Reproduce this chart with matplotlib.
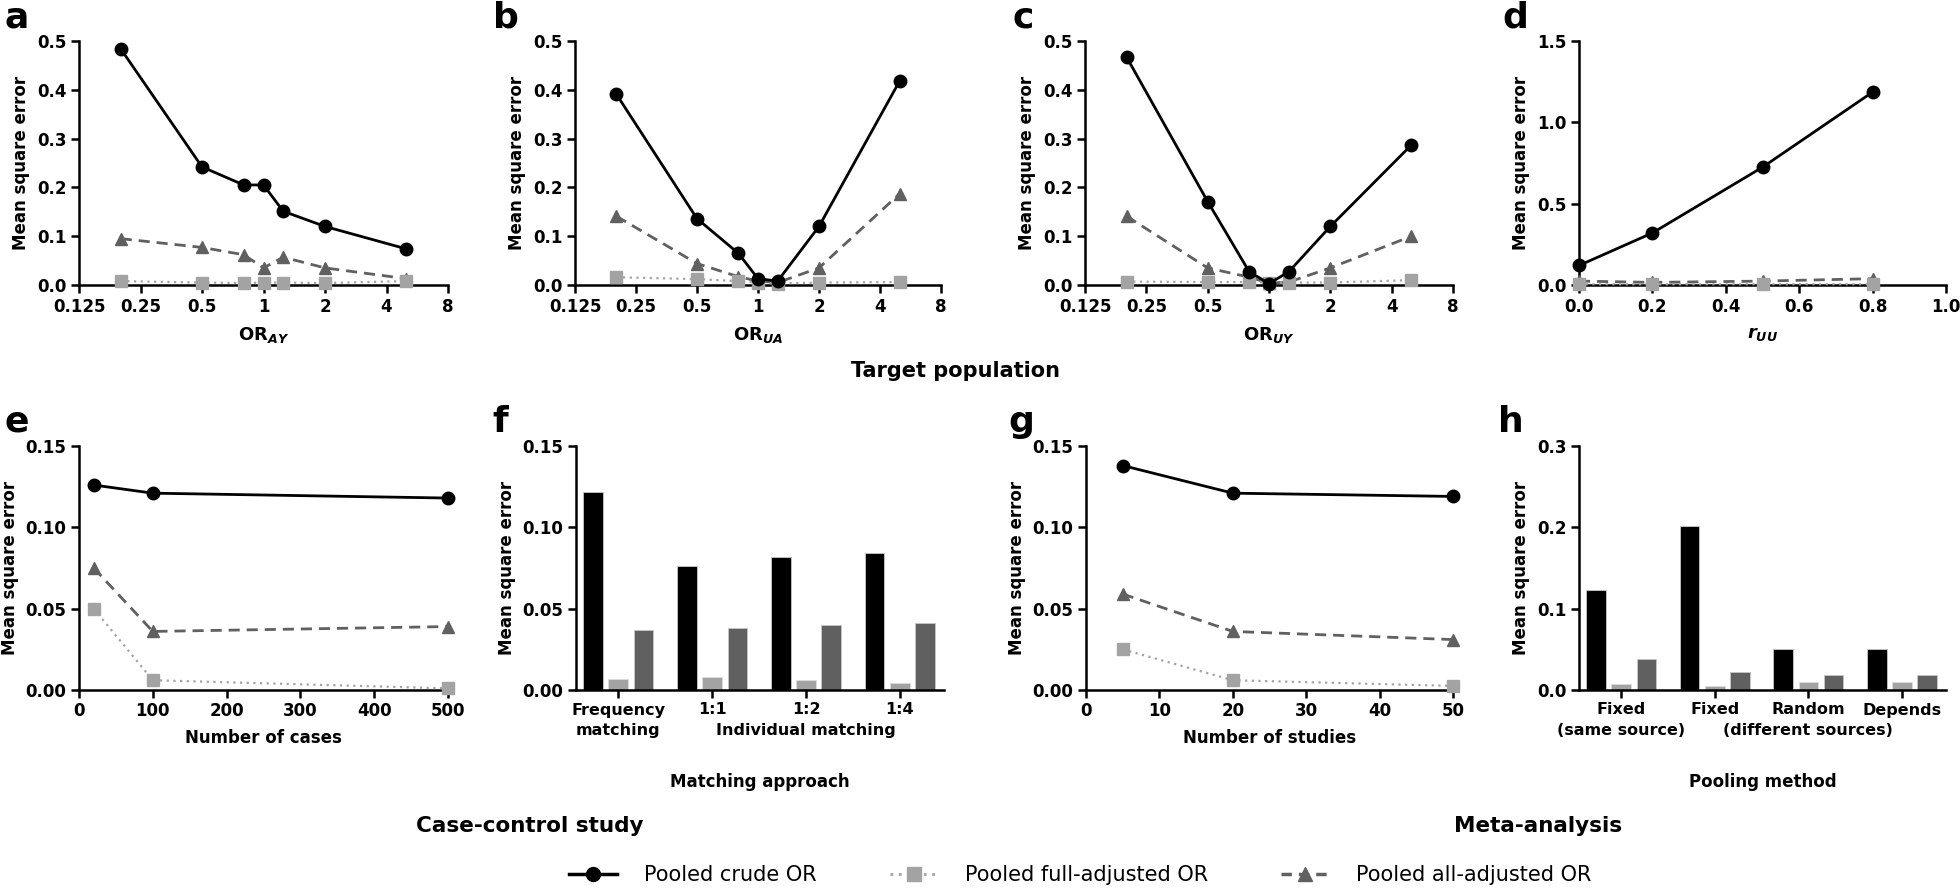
import matplotlib

matplotlib.use("Agg")
import matplotlib.pyplot as plt  # noqa: E402
from matplotlib.lines import Line2D  # noqa: E402

plt.rcParams.update({
    "font.family": "DejaVu Sans",
    "font.weight": "bold",
    "axes.labelweight": "bold",
    "mathtext.fontset": "custom",
    "mathtext.rm": "DejaVu Sans:bold",
    "mathtext.it": "DejaVu Sans:bold:italic",
    "mathtext.bf": "DejaVu Sans:bold",
})

# ---- data ----
OR_X = [0.2, 0.5, 0.8, 1, 1.25, 2, 5]
OR_TICKS = [0.125, 0.25, 0.5, 1, 2, 4, 8]
OR_TICKLABELS = ["0.125", "0.25", "0.5", "1", "2", "4", "8"]

A_CRUDE = [0.484, 0.242, 0.205, 0.205, 0.151, 0.120, 0.074]
A_FULL = [0.008, 0.005, 0.004, 0.005, 0.005, 0.004, 0.008]
A_ALL = [0.095, 0.077, 0.062, 0.035, 0.057, 0.035, 0.013]

B_CRUDE = [0.391, 0.136, 0.065, 0.013, 0.008, 0.120, 0.418]
B_FULL = [0.016, 0.012, 0.008, 0.005, 0.003, 0.005, 0.006]
B_ALL = [0.141, 0.044, 0.017, 0.008, 0.005, 0.035, 0.187]

C_CRUDE = [0.467, 0.171, 0.027, 0.003, 0.027, 0.120, 0.287]
C_FULL = [0.007, 0.006, 0.006, 0.005, 0.005, 0.005, 0.010]
C_ALL = [0.141, 0.035, 0.016, 0.004, 0.006, 0.035, 0.100]

R_UU = [0.0, 0.2, 0.5, 0.8]
D_CRUDE = [0.12, 0.32, 0.724, 1.186]
D_FULL = [0.005, 0.004, 0.005, 0.005]
D_ALL = [0.024, 0.016, 0.024, 0.039]

CASES = [20, 100, 500]
E_CRUDE = [0.126, 0.121, 0.118]
E_FULL = [0.050, 0.006, 0.001]
E_ALL = [0.075, 0.036, 0.039]

MATCHING = ["Frequency", "1:1", "1:2", "1:4"]
MATCHING_SUB = ["matching", "", "Individual matching", ""]
F_CRUDE = [0.122, 0.0765, 0.082, 0.084]
F_FULL = [0.007, 0.008, 0.006, 0.004]
F_ALL = [0.037, 0.038, 0.040, 0.041]

STUDIES = [5, 20, 50]
G_CRUDE = [0.138, 0.121, 0.119]
G_FULL = [0.025, 0.006, 0.0025]
G_ALL = [0.059, 0.036, 0.031]

POOLING = ["Fixed", "Fixed", "Random", "Depends"]
POOLING_SUB = ["(same source)", "", "(different sources)", ""]
H_CRUDE = [0.123, 0.202, 0.050, 0.051]
H_FULL = [0.007, 0.005, 0.010, 0.010]
H_ALL = [0.038, 0.022, 0.018, 0.018]

LEGEND_LABELS = ["Pooled crude OR", "Pooled full-adjusted OR", "Pooled all-adjusted OR"]

# ---- styling ----
W, H = 1960, 891
BLACK, LIGHT, DARK = "#000000", "#a3a3a3", "#606060"
TICK_FS = 12
LABEL_FS = 12


def px_axes(fig, x0, y_top, x1, y_bot):
    return fig.add_axes([x0 / W, 1 - y_bot / H, (x1 - x0) / W, (y_bot - y_top) / H])


def style(ax):
    for s in ("top", "right"):
        ax.spines[s].set_visible(False)
    for s in ("left", "bottom"):
        ax.spines[s].set_linewidth(1.8)
    ax.tick_params(width=1.8, length=6, labelsize=TICK_FS, pad=3)
    ax.set_ylabel("Mean square error", fontsize=LABEL_FS, labelpad=5)


def lines(ax, x, crude, full, alladj):
    ax.plot(x, alladj, ls=(0, (4, 2.5)), color=DARK, lw=2, marker="^", ms=9,
            clip_on=False, zorder=3)
    ax.plot(x, full, ls=(0, (1, 2)), color=LIGHT, lw=1.6, marker="s", ms=9,
            clip_on=False, zorder=4)
    ax.plot(x, crude, ls="-", color=BLACK, lw=2, marker="o", ms=9,
            clip_on=False, zorder=5)


def bars(ax, labels, sublabels, crude, full, alladj):
    pos = list(range(len(labels)))
    off, wid = 0.27, 0.21
    ax.bar([p - off for p in pos], crude, wid, color=BLACK, edgecolor="#c8c8c8", lw=0.6)
    ax.bar(pos, full, wid, color=LIGHT, edgecolor="#dddddd", lw=0.6)
    ax.bar([p + off for p in pos], alladj, wid, color=DARK, edgecolor="#c8c8c8", lw=0.6)
    ax.set_xticks(pos)
    ax.set_xticklabels(labels, fontsize=11.5)
    ax.set_xlim(-0.45, 3.47)
    for p, sub in zip(pos, sublabels):
        if sub:
            ax.annotate(sub, xy=(p, 0), xycoords=("data", "axes fraction"),
                        xytext=(0, -24), textcoords="offset points",
                        ha="center", va="top", fontsize=11.5, fontweight="bold")


fig = plt.figure(figsize=(W / 100, H / 100), dpi=100)

# top row
top_cols = [(79, 448), (575, 941), (1085, 1453), (1579, 1946)]
top_axes = [px_axes(fig, a, 41, b, 285) for a, b in top_cols]
for ax, (cr, fu, al), xl in zip(top_axes[:3],
                                [(A_CRUDE, A_FULL, A_ALL), (B_CRUDE, B_FULL, B_ALL),
                                 (C_CRUDE, C_FULL, C_ALL)],
                                [r"OR$_{AY}$", r"OR$_{UA}$", r"OR$_{UY}$"]):
    style(ax)
    ax.set_xscale("log", base=2)
    lines(ax, OR_X, cr, fu, al)
    ax.set_xlim(0.125, 8)
    ax.set_xticks(OR_TICKS)
    ax.set_xticklabels(OR_TICKLABELS)
    ax.minorticks_off()
    ax.set_ylim(0, 0.5)
    ax.set_yticks([0, 0.1, 0.2, 0.3, 0.4, 0.5])
    ax.set_yticklabels(["0.0", "0.1", "0.2", "0.3", "0.4", "0.5"])
    ax.set_xlabel(xl, fontsize=13, labelpad=7)

ax = top_axes[3]
style(ax)
lines(ax, R_UU, D_CRUDE, D_FULL, D_ALL)
ax.set_xlim(0, 1.0)
ax.set_xticks([0, 0.2, 0.4, 0.6, 0.8, 1.0])
ax.set_xticklabels(["0.0", "0.2", "0.4", "0.6", "0.8", "1.0"])
ax.set_ylim(0, 1.5)
ax.set_yticks([0, 0.5, 1.0, 1.5])
ax.set_yticklabels(["0.0", "0.5", "1.0", "1.5"])
ax.set_xlabel(r"$r_{UU}$", fontsize=13, labelpad=7)

# bottom row
bot_cols = [(79, 448), (576, 944), (1086, 1453), (1579, 1946)]
bot_axes = [px_axes(fig, a, 446, b, 690) for a, b in bot_cols]

ax = bot_axes[0]
style(ax)
lines(ax, CASES, E_CRUDE, E_FULL, E_ALL)
ax.set_xlim(0, 500)
ax.set_xticks([0, 100, 200, 300, 400, 500])
ax.set_ylim(0, 0.15)
ax.set_yticks([0, 0.05, 0.10, 0.15])
ax.set_yticklabels(["0.00", "0.05", "0.10", "0.15"])
ax.set_xlabel("Number of cases", fontsize=LABEL_FS, labelpad=6)

ax = bot_axes[1]
style(ax)
bars(ax, MATCHING, MATCHING_SUB, F_CRUDE, F_FULL, F_ALL)
ax.set_ylim(0, 0.15)
ax.set_yticks([0, 0.05, 0.10, 0.15])
ax.set_yticklabels(["0.00", "0.05", "0.10", "0.15"])
ax.set_xlabel("Matching approach", fontsize=LABEL_FS, labelpad=40)

ax = bot_axes[2]
style(ax)
lines(ax, STUDIES, G_CRUDE, G_FULL, G_ALL)
ax.set_xlim(0, 50)
ax.set_xticks([0, 10, 20, 30, 40, 50])
ax.set_ylim(0, 0.15)
ax.set_yticks([0, 0.05, 0.10, 0.15])
ax.set_yticklabels(["0.00", "0.05", "0.10", "0.15"])
ax.set_xlabel("Number of studies", fontsize=LABEL_FS, labelpad=6)

ax = bot_axes[3]
style(ax)
bars(ax, POOLING, POOLING_SUB, H_CRUDE, H_FULL, H_ALL)
ax.set_ylim(0, 0.3)
ax.set_yticks([0, 0.1, 0.2, 0.3])
ax.set_yticklabels(["0.0", "0.1", "0.2", "0.3"])
ax.set_xlabel("Pooling method", fontsize=LABEL_FS, labelpad=40)

# panel letters
for letter, x, y in [("a", 4, 28), ("b", 493, 28), ("c", 1012, 28), ("d", 1502, 28),
                     ("e", 4, 432), ("f", 492, 432), ("g", 1008, 432), ("h", 1498, 432)]:
    fig.text(x / W, 1 - y / H, letter, fontsize=26, fontweight="bold",
             ha="left", va="baseline")

# section titles
for txt, x, y, fs in [("Target population", 955, 371, 15),
                      ("Case-control study", 530, 826, 15.5),
                      ("Meta-analysis", 1538, 826, 15.5)]:
    fig.text(x / W, 1 - y / H, txt, fontsize=fs, fontweight="bold",
             ha="center", va="center")

handles = [
    Line2D([], [], color=BLACK, ls="-", lw=2.5, marker="o", ms=10),
    Line2D([], [], color=LIGHT, ls=(0, (1, 2)), lw=2, marker="s", ms=10),
    Line2D([], [], color=DARK, ls=(0, (3, 2)), lw=2.5, marker="^", ms=10),
]
fig.legend(handles, LEGEND_LABELS, loc="center", ncol=3, frameon=False,
           bbox_to_anchor=(1080 / W, 1 - 875 / H), handlelength=2.3,
           columnspacing=3.5, handletextpad=1.3,
           prop={"family": "DejaVu Sans", "size": 15, "weight": "normal"})

fig.savefig("out.png", dpi=100)
